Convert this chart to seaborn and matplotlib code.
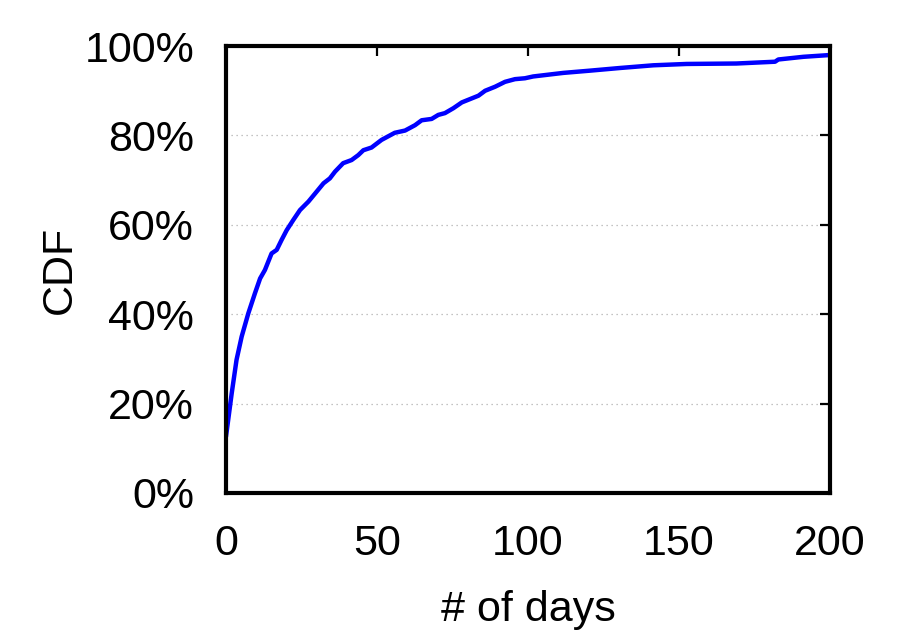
import matplotlib
matplotlib.use("Agg")
import matplotlib.pyplot as plt
import seaborn as sns
import pandas as pd
from matplotlib.ticker import FuncFormatter

days = [0, 1.9, 3.5, 5.2, 7.4, 9.6, 11.3, 12.9, 15.1, 16.8, 18.4, 20.1, 22.3, 24.5,
        27.3, 29.5, 32.3, 34.4, 36.1, 38.8, 41.6, 43.8, 45.5, 48.2, 51.5, 55.9,
        59.3, 62.6, 64.8, 68.1, 70.3, 72.5, 75.3, 78.1, 81.4, 83.6, 85.8, 89.1,
        92.4, 95.7, 99.0, 101.7, 111.7, 120.5, 130.5, 141.5, 152.5, 169.0, 181.8,
        182.9, 191.2, 200.0]
cdf = [12.6, 22.3, 29.8, 35.0, 40.2, 44.7, 48.0, 49.9, 53.6, 54.4, 56.6, 58.8, 61.1,
       63.3, 65.2, 67.0, 69.3, 70.4, 71.9, 73.8, 74.5, 75.6, 76.7, 77.3, 79.0, 80.6,
       81.1, 82.3, 83.4, 83.7, 84.6, 85.0, 86.1, 87.4, 88.3, 88.9, 90.0, 90.9,
       92.0, 92.6, 92.8, 93.2, 94.0, 94.5, 95.1, 95.7, 96.0, 96.1, 96.5,
       97.0, 97.6, 98.0]
x_ticks = [0, 50, 100, 150, 200]
y_ticks = [0, 20, 40, 60, 80, 100]

sns.set_style("white")
plt.rcParams['font.family'] = ['Liberation Sans', 'DejaVu Sans']

fig = plt.figure(figsize=(9.13, 6.4), dpi=100)
ax = fig.add_axes([0.2475, 0.2297, 0.9091 - 0.2475, 0.928 - 0.2297])

df = pd.DataFrame({"days": days, "cdf": cdf})
sns.lineplot(data=df, x="days", y="cdf", ax=ax, color=(0, 0, 1), linewidth=3.2,
             estimator=None, sort=False)

ax.set_xlim(0, 200)
ax.set_ylim(0, 100)
ax.set_xticks(x_ticks)
ax.set_yticks(y_ticks)
ax.yaxis.set_major_formatter(FuncFormatter(lambda v, p: f"{int(v)}%"))
for yv in y_ticks[1:-1]:
    ax.axhline(yv, color="#b0b0b0", linestyle=(0, (1, 3)), linewidth=0.9, zorder=0)

ax.tick_params(axis="both", which="major", direction="in", length=7, width=1.6,
               top=True, right=True, labelsize=31, colors="black",
               labelcolor="black")
ax.tick_params(axis="y", pad=23)
ax.tick_params(axis="x", pad=22)
for s in ax.spines.values():
    s.set_linewidth(3.0)
    s.set_color("black")
    s.set_visible(True)

ax.set_xlabel("# of days", fontsize=31, labelpad=19, color="black")
ax.set_ylabel("CDF", fontsize=31, labelpad=3, color="black")

fig.savefig("out.png", dpi=100)
